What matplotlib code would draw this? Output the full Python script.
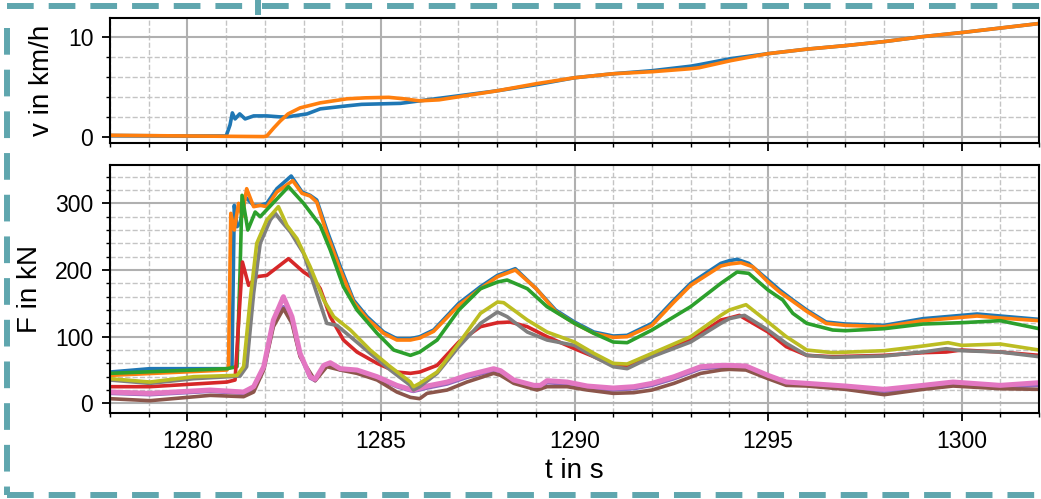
import numpy as np
import matplotlib
matplotlib.use("Agg")
import matplotlib.pyplot as plt
from matplotlib.ticker import MultipleLocator
from matplotlib.lines import Line2D

plt.rcParams["font.family"] = ["Liberation Sans", "DejaVu Sans"]

# ---- velocity (top panel) ----
t_v_blue = [1278.0, 1280.0, 1281.0, 1281.1, 1281.16, 1281.23, 1281.35, 1281.49, 1281.71, 1282.05,
            1282.4, 1282.57, 1283.09, 1283.43, 1284.12, 1284.5, 1285.5, 1286.0, 1287.0, 1288.0,
            1289.0, 1290.0, 1291.0, 1292.0, 1293.0, 1293.22, 1294.03, 1295.0, 1296.0, 1297.0,
            1298.0, 1299.0, 1300.0, 1301.0, 1302.0]
v_blue = [0.15, 0.1, 0.1, 1.2, 2.4, 1.8, 2.3, 1.8, 2.1, 2.1,
          2.0, 2.0, 2.3, 2.8, 3.1, 3.25, 3.35, 3.6, 4.1, 4.6,
          5.2, 5.9, 6.3, 6.6, 7.05, 7.2, 7.8, 8.3, 8.75, 9.1,
          9.5, 10.0, 10.4, 10.85, 11.3]
t_v_orange = [1278.0, 1280.0, 1281.97, 1282.05, 1282.23, 1282.4, 1282.6, 1282.91, 1283.43, 1284.12,
              1284.6, 1285.2, 1285.6, 1286.0, 1286.5, 1287.0, 1288.0, 1289.0, 1290.0, 1291.0,
              1292.0, 1293.0, 1293.22, 1294.03, 1295.0, 1296.0, 1297.0, 1298.0, 1299.0, 1300.0,
              1301.0, 1302.0]
v_orange = [0.17, 0.1, 0.04, 0.1, 0.9, 1.6, 2.3, 2.9, 3.4, 3.8,
            3.9, 3.95, 3.8, 3.6, 3.7, 4.0, 4.6, 5.3, 5.9, 6.3,
            6.5, 6.8, 6.9, 7.6, 8.3, 8.75, 9.1, 9.5, 10.0, 10.4,
            10.85, 11.3]

# ---- forces (bottom panel) ----
t_blue = [1278.0, 1279.03, 1281.02, 1281.15, 1281.21, 1281.28, 1281.36, 1281.49, 1281.71, 1281.88,
          1282.05, 1282.31, 1282.68, 1282.96, 1283.17, 1283.34, 1283.6, 1283.95, 1284.29, 1284.64,
          1285.07, 1285.41, 1285.76, 1286.0, 1286.36, 1287.01, 1287.57, 1288.01, 1288.47, 1289.01,
          1289.51, 1290.0, 1290.5, 1291.0, 1291.36, 1292.0, 1292.57, 1293.0, 1293.78, 1294.0,
          1294.2, 1294.5, 1295.0, 1295.3, 1295.64, 1296.0, 1296.5, 1297.0, 1298.0, 1299.0,
          1300.0, 1300.4, 1301.0, 1302.0]
f_blue = [47, 52, 52, 55, 297, 265, 270, 310, 297, 297,
          300, 322, 341, 317, 312, 305, 260, 205, 155, 130,
          107, 97, 97, 100, 110, 150, 175, 192, 202, 172,
          140, 122, 107, 101, 102, 120, 155, 180, 210, 214,
          216, 210, 185, 170, 155, 140, 122, 119, 117, 127,
          132, 134, 131, 126]
t_orange = [1278.0, 1281.02, 1281.06, 1281.12, 1281.21, 1281.32, 1281.41, 1281.53, 1281.71, 1281.88,
            1282.05, 1282.31, 1282.72, 1282.96, 1283.17, 1283.34, 1283.6, 1283.95, 1284.29, 1284.64,
            1285.07, 1285.41, 1285.76, 1286.0, 1286.36, 1287.01, 1287.57, 1288.01, 1288.47, 1289.01,
            1289.51, 1290.0, 1290.5, 1291.0, 1291.36, 1292.0, 1292.57, 1293.0, 1293.78, 1294.0,
            1294.3, 1294.6, 1295.0, 1295.3, 1295.64, 1296.0, 1296.5, 1297.0, 1298.0, 1299.0,
            1300.0, 1300.4, 1301.0, 1302.0]
f_orange = [42, 50, 55, 285, 260, 300, 280, 322, 295, 297,
            295, 317, 334, 315, 311, 302, 255, 200, 152, 127,
            105, 95, 95, 98, 108, 147, 172, 190, 200, 172,
            138, 120, 105, 99, 100, 117, 152, 177, 206, 209,
            211, 205, 182, 167, 153, 138, 120, 117, 115, 124,
            129, 131, 128, 124]
t_green = [1278.0, 1281.02, 1281.28, 1281.36, 1281.41, 1281.56, 1281.75, 1281.88, 1282.61, 1283.0,
           1283.26, 1283.43, 1283.69, 1284.03, 1284.38, 1284.9, 1285.33, 1285.76, 1286.0, 1286.45,
           1287.01, 1287.57, 1288.01, 1288.26, 1288.78, 1289.29, 1290.0, 1290.5, 1291.0, 1291.36,
           1292.0, 1293.0, 1293.78, 1294.2, 1294.5, 1295.0, 1295.38, 1295.64, 1296.0, 1296.67,
           1297.0, 1298.0, 1299.0, 1300.0, 1301.0, 1302.0]
f_green = [45, 52, 55, 200, 312, 260, 287, 280, 325, 300,
           280, 267, 230, 175, 140, 105, 80, 72, 77, 95,
           140, 172, 182, 185, 172, 145, 120, 105, 92, 91,
           110, 145, 180, 197, 195, 170, 155, 135, 120, 110,
           109, 112, 119, 121, 124, 112]
t_red = [1278.0, 1279.03, 1281.02, 1281.23, 1281.32, 1281.42, 1281.58, 1281.79, 1282.05, 1282.61,
         1283.0, 1283.26, 1283.43, 1283.69, 1284.03, 1284.38, 1284.9, 1285.41, 1285.76, 1286.0,
         1286.45, 1287.01, 1287.57, 1288.01, 1288.34, 1288.78, 1289.29, 1290.0, 1290.5, 1291.0,
         1291.36, 1292.0, 1293.0, 1293.78, 1294.0, 1294.26, 1295.0, 1295.47, 1296.0, 1296.67,
         1298.0, 1299.0, 1299.6, 1300.0, 1301.0, 1302.0]
f_red = [25, 25, 32, 35, 120, 212, 177, 190, 192, 217,
         197, 187, 172, 130, 95, 77, 60, 47, 45, 47,
         57, 92, 115, 121, 122, 115, 100, 82, 70, 57,
         56, 72, 95, 125, 128, 132, 107, 85, 72, 70,
         72, 76, 77, 80, 77, 72]
t_gray = [1278.0, 1279.03, 1280.16, 1281.36, 1281.53, 1281.71, 1281.88, 1282.14, 1282.27, 1282.4,
          1282.66, 1283.0, 1283.34, 1283.6, 1283.86, 1284.21, 1284.72, 1285.24, 1285.76, 1285.84,
          1286.0, 1286.45, 1287.01, 1287.57, 1288.01, 1288.26, 1288.78, 1289.29, 1290.0, 1290.5,
          1291.0, 1291.36, 1292.0, 1293.0, 1293.78, 1294.0, 1294.39, 1295.0, 1295.47, 1296.0,
          1296.67, 1298.0, 1299.0, 1299.6, 1300.0, 1301.0, 1302.0]
f_gray = [35, 30, 37, 41, 55, 165, 240, 275, 285, 275,
          257, 225, 165, 120, 117, 100, 75, 50, 27, 20,
          25, 45, 85, 120, 137, 130, 107, 95, 87, 70,
          55, 52, 70, 92, 120, 127, 132, 110, 90, 72,
          69, 71, 77, 82, 79, 77, 70]
t_olive = [1278.0, 1279.03, 1280.16, 1281.28, 1281.45, 1281.62, 1281.79, 1282.05, 1282.35, 1282.57,
           1282.83, 1283.17, 1283.52, 1283.78, 1284.21, 1284.72, 1285.24, 1285.76, 1285.84, 1286.0,
           1286.45, 1287.01, 1287.57, 1288.01, 1288.17, 1288.78, 1289.29, 1290.0, 1290.5, 1291.0,
           1291.36, 1292.0, 1293.0, 1293.78, 1294.0, 1294.43, 1295.0, 1295.47, 1296.0, 1296.67,
           1298.0, 1299.0, 1299.65, 1300.0, 1301.0, 1302.0]
f_olive = [37, 32, 40, 42, 55, 155, 240, 275, 295, 267,
           247, 205, 155, 130, 110, 80, 55, 32, 25, 30,
           47, 90, 135, 152, 151, 125, 107, 92, 75, 60,
           59, 75, 100, 132, 140, 148, 122, 100, 80, 76,
           79, 86, 91, 87, 89, 80]
t_pink = [1278.0, 1279.03, 1280.59, 1281.45, 1281.71, 1281.97, 1282.22, 1282.48, 1282.7, 1282.91,
          1283.17, 1283.3, 1283.52, 1283.69, 1283.95, 1284.38, 1284.9, 1285.41, 1285.76, 1285.84,
          1286.19, 1286.71, 1287.22, 1287.91, 1288.09, 1288.43, 1288.95, 1289.12, 1289.29, 1289.81,
          1290.33, 1291.0, 1291.53, 1292.0, 1292.57, 1293.26, 1293.78, 1294.0, 1294.43, 1295.0,
          1295.47, 1296.0, 1297.0, 1298.0, 1299.0, 1299.78, 1301.0, 1302.0]
f_pink = [17, 15, 20, 17, 25, 55, 125, 160, 130, 75,
          40, 36, 57, 61, 52, 50, 40, 27, 21, 20,
          26, 32, 42, 52, 49, 35, 27, 27, 34, 32,
          26, 23, 25, 30, 40, 55, 57, 57, 56, 42,
          32, 30, 26, 21, 27, 32, 27, 31]
t_purple = t_pink
f_purple = [15, 13, 18, 15, 22, 52, 118, 145, 122, 72,
            38, 34, 55, 59, 50, 48, 38, 25, 19, 18,
            23, 29, 39, 49, 46, 33, 24, 24, 31, 29,
            23, 20, 22, 27, 37, 52, 54, 54, 53, 40,
            30, 28, 24, 18, 24, 29, 24, 27]
t_brown = [1278.0, 1279.03, 1280.59, 1281.45, 1281.71, 1281.97, 1282.22, 1282.48, 1282.7, 1282.91,
           1283.3, 1283.6, 1283.95, 1284.38, 1284.9, 1285.41, 1285.76, 1286.0, 1286.19, 1286.71,
           1287.22, 1287.91, 1288.09, 1288.43, 1289.03, 1289.29, 1289.81, 1290.33, 1291.0, 1291.53,
           1292.0, 1292.57, 1293.26, 1293.78, 1294.0, 1294.43, 1295.0, 1295.47, 1296.0, 1297.0,
           1298.0, 1299.0, 1299.78, 1301.0, 1302.0]
f_brown = [7, 4, 12, 10, 17, 50, 115, 142, 120, 70,
           34, 55, 50, 45, 35, 17, 9, 7, 15, 20,
           32, 45, 42, 30, 20, 25, 25, 20, 15, 16,
           20, 30, 45, 50, 51, 50, 37, 27, 26, 21,
           13, 21, 26, 22, 21]

series = [
    (t_blue, f_blue, "C0", 2.6),
    (t_orange, f_orange, "C1", 2.6),
    (t_green, f_green, "C2", 2.6),
    (t_red, f_red, "C3", 2.6),
    (t_purple, f_purple, "C4", 2.6),
    (t_brown, f_brown, "C5", 2.6),
    (t_pink, f_pink, "C6", 3.6),
    (t_gray, f_gray, "C7", 2.6),
    (t_olive, f_olive, "C8", 2.6),
]

fig = plt.figure(figsize=(10.41, 4.99), dpi=100)
ax_v = fig.add_axes([0.1057, 0.7134, 0.8924, 0.2505])
ax_f = fig.add_axes([0.1057, 0.1723, 0.8924, 0.4970])


def style_axes(ax, ymajor, yminor):
    ax.set_xlim(1278, 1302)
    ax.xaxis.set_major_locator(MultipleLocator(5))
    ax.xaxis.set_minor_locator(MultipleLocator(1))
    ax.yaxis.set_major_locator(MultipleLocator(ymajor))
    ax.yaxis.set_minor_locator(MultipleLocator(yminor))
    ax.grid(which="major", color="#b0b0b0", lw=1.5, ls="-")
    ax.grid(which="minor", color="#c4c4c4", lw=1.0, ls="--")
    ax.set_axisbelow(True)
    ax.tick_params(which="major", direction="out", length=6, width=1.3,
                   labelsize=16.5, pad=6, color="black")
    ax.tick_params(which="minor", direction="out", length=3, width=1.0, color="black")
    for s in ax.spines.values():
        s.set_linewidth(1.5)
        s.set_color("black")


ax_v.plot(t_v_blue, v_blue, color="C0", lw=2.6)
ax_v.plot(t_v_orange, v_orange, color="C1", lw=2.6)
style_axes(ax_v, 10, 2)
ax_v.set_ylim(-0.6, 11.85)
ax_v.tick_params(labelbottom=False)
ax_v.set_ylabel("v in km/h", fontsize=20, labelpad=9)

for t, f, c, lw in series:
    ax_f.plot(t, f, color=c, lw=lw)
style_axes(ax_f, 100, 20)
ax_f.set_ylim(-14.5, 357.5)
ax_f.set_ylabel("F in kN", fontsize=20, labelpad=9)
ax_f.set_xlabel("t in s", fontsize=20)

# dashed frame around the figure
W, H = 1041.0, 499.0
frame = dict(color="#5fa6ae", lw=4.3, linestyle=(0, (4.47, 2.51)),
             transform=fig.transFigure, solid_capstyle="butt", dash_capstyle="butt")
fig.add_artist(Line2D([7 / W, 7 / W], [1 - 28 / H, 1 - 495 / H], **frame))
fig.add_artist(Line2D([7 / W, 1.0], [1 - 495 / H, 1 - 495 / H], **frame))
fig.add_artist(Line2D([7 / W, 255 / W], [1 - 6 / H, 1 - 6 / H], **frame))
fig.add_artist(Line2D([262 / W, 1.0], [1 - 6 / H, 1 - 6 / H], **frame))
fig.add_artist(Line2D([258 / W, 258 / W], [1.0, 1 - 12 / H], color="#5fa6ae", lw=4.3,
                      transform=fig.transFigure))

fig.savefig("out.png", dpi=100)
